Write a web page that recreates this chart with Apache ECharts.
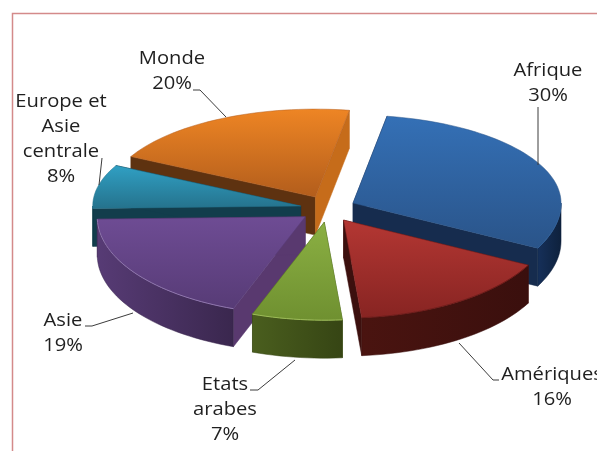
<!DOCTYPE html>
<html>
<head>
<meta charset="utf-8">
<style>
  html, body { margin: 0; padding: 0; background: #fff; overflow: hidden; }
  #chart { width: 597px; height: 451px; }
</style>
<script src="https://cdn.jsdelivr.net/npm/echarts@6/dist/echarts.min.js"></script>
</head>
<body>
<div id="chart"></div>
<script>
const categories = ['Afrique', 'Amériques', 'Etats arabes', 'Asie', 'Europe et Asie centrale', 'Monde']
const shares = [30, 16, 7, 19, 8, 20]
const labelLines = [['Afrique'], ['Amériques'], ['Etats', 'arabes'], ['Asie'], ['Europe et', 'Asie', 'centrale'], ['Monde']]

// back to front
const paintRank = [2, 5, 6, 4, 3, 1]

const PIE = { cx: 328, cy: 209, rx: 208, ryFront: 98, ryBack: 88, depth: 38, ex: 28, ey: 13.3, startDeg: 9.4 }

// top gradient, start face, end face, rim gradient, rim highlight
const SKINS = [
  { top: ['#3470b6', '#2a5489'], start: '#1a3560', end: '#162c4e', rim: ['#16305a', '#0e213c'], edge: '#2f5f98' },
  { top: ['#b43733', '#872422'], start: '#4d1412', end: '#3c100e', rim: ['#4a1410', '#3a0f0d'], edge: '#6e1c1a' },
  { top: ['#8bb043', '#6f9030'], start: '#46581c', end: '#46581c', rim: ['#4a5e1e', '#364514'], edge: '#9dbc58' },
  { top: ['#6e4c94', '#573b76'], start: '#59396f', end: '#59396f', rim: ['#573b75', '#3a274e'], edge: '#8f76ad' },
  { top: ['#30a0c4', '#25728c'], start: '#123d4c', end: '#123d4c', rim: ['#14505f', '#0f3a45'], edge: '#25728c' },
  { top: ['#ee8524', '#b25d1c'], start: '#5e3210', end: '#c66c1a', rim: ['#6e3a12', '#5e3210'], edge: '#b25d1c' }
]

// label centre (first line), leader line
const LABELS = [
  { x: 548, y: 71, leader: [[538, 107], [538, 165]] },
  { x: 552, y: 375, leader: [[459, 343], [493, 380], [499, 380]] },
  { x: 225, y: 385, leader: [[295, 360], [258, 390], [250, 390]] },
  { x: 63, y: 321, leader: [[133, 313], [92, 326], [85, 326]] },
  { x: 61, y: 102, leader: [[102, 158], [99, 185]] },
  { x: 172, y: 59, leader: [[193, 90], [200, 90], [226, 117]] }
]
const LINE_H = 25
const total = shares.reduce((a, b) => a + b, 0)

function rimPoint(deg, ox, oy) {
  const t = deg * Math.PI / 180
  const c = Math.cos(t)
  return [ox + PIE.rx * Math.sin(t), oy - (c > 0 ? PIE.ryBack : PIE.ryFront) * c]
}

function arcPoints(from, to, ox, oy) {
  const pts = []
  const n = Math.max(2, Math.ceil((to - from) / 2))
  for (let i = 0; i <= n; i++) pts.push(rimPoint(from + (to - from) * i / n, ox, oy))
  return pts
}

function drop(pts) { return pts.map(p => [p[0], p[1] + PIE.depth]) }

function grad(x2, y2, c) {
  return new echarts.graphic.LinearGradient(0, 0, x2, y2, [{ offset: 0, color: c[0] }, { offset: 1, color: c[1] }])
}

function renderSlice(params, api) {
  const i = params.dataIndex
  const value = api.value(0)
  const before = shares.slice(0, i).reduce((a, b) => a + b, 0)
  const from = PIE.startDeg + before / total * 360
  const to = from + value / total * 360
  const mid = (from + to) / 2 * Math.PI / 180
  const ox = PIE.cx + PIE.ex * Math.sin(mid)
  const oy = PIE.cy - PIE.ey * Math.cos(mid)
  const skin = SKINS[i]
  const z = paintRank[i] * 10
  const tip = [ox, oy]
  const arc = arcPoints(from, to, ox, oy)
  const children = []

  const face = (edge, fill) => children.push({
    type: 'polygon', z2: z, shape: { points: edge.concat(drop(edge).reverse()) },
    style: { fill, stroke: fill, lineWidth: 0.5 }
  })
  face([tip, arc[0]], skin.start)
  face([tip, arc[arc.length - 1]], skin.end)

  // outer wall, only the part turned to the viewer
  const a = Math.max(from, 90), b = Math.min(to, 270)
  if (b > a) {
    const wall = arcPoints(a, b, ox, oy)
    children.push({
      type: 'polygon', z2: z + 1, shape: { points: wall.concat(drop(wall).reverse()) },
      style: { fill: grad(1, 0, skin.rim), stroke: skin.rim[1], lineWidth: 0.5 }
    })
    children.push({
      type: 'polyline', z2: z + 3, shape: { points: wall },
      style: { fill: 'none', stroke: skin.edge, lineWidth: 1 }
    })
  }

  children.push({
    type: 'polygon', z2: z + 2, shape: { points: [tip].concat(arc) },
    style: { fill: grad(0, 1, skin.top), stroke: skin.top[1], lineWidth: 0.5 }
  })

  const lab = LABELS[i]
  children.push({
    type: 'polyline', z2: 100, shape: { points: lab.leader },
    style: { fill: 'none', stroke: '#3c3c3c', lineWidth: 1 }
  })
  labelLines[i].concat(value + '%').forEach((line, k) => {
    children.push({
      type: 'text', z2: 101, x: lab.x, y: lab.y + k * LINE_H, scaleX: 1.12,
      style: {
        text: line, x: 0, y: 0, fill: '#1f1f1f', align: 'center', verticalAlign: 'middle',
        font: '18px "Open Sans", sans-serif'
      }
    })
  })
  return { type: 'group', children }
}

const chart = echarts.init(document.getElementById('chart'))
chart.setOption({
  animation: false,
  backgroundColor: '#fff',
  graphic: [{
    type: 'polyline', silent: true,
    shape: { points: [[12.5, 451], [12.5, 13.5], [597, 13.5]] },
    style: { fill: 'none', stroke: '#d48a8a', lineWidth: 1.5 }
  }],
  series: [{
    type: 'custom',
    coordinateSystem: 'none',
    silent: true,
    renderItem: renderSlice,
    data: shares.map((v, i) => ({ name: categories[i], value: [v] }))
  }]
})
</script>
</body>
</html>
